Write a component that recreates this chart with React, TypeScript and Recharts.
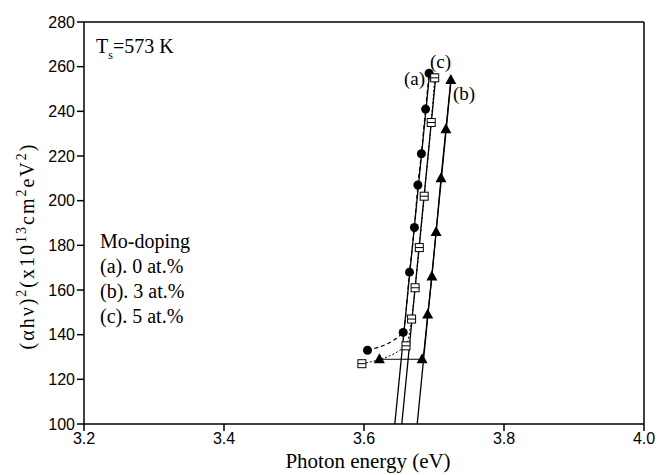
import React from 'react';
import { ComposedChart, Line, XAxis, YAxis, ReferenceLine } from 'recharts';

const xTicks = [3.2, 3.4, 3.6, 3.8, 4.0];
const yTicks = [100, 120, 140, 160, 180, 200, 220, 240, 260, 280];

const aE = [3.605, 3.656, 3.665, 3.672, 3.677, 3.682, 3.688, 3.693];
const aV = [133, 141, 168, 188, 207, 221, 241, 257];
const bE = [3.622, 3.683, 3.691, 3.697, 3.703, 3.710, 3.717, 3.724];
const bV = [129, 129, 149, 166, 186, 210, 232, 254];
const cE = [3.597, 3.660, 3.668, 3.673, 3.679, 3.686, 3.696, 3.701];
const cV = [127, 135, 147, 161, 179, 202, 235, 255];

const aFitE = [3.644, 3.694];
const aFitV = [100, 258];
const cFitE = [3.654, 3.703];
const cFitV = [100, 257];
const bFitE = [3.676, 3.725];
const bFitV = [100, 256];

const zip = (xs: number[], ys: number[]) => xs.map((x, i) => ({ x, y: ys[i] }));

const aData = zip(aE, aV);
const bData = zip(bE, bV);
const cData = zip(cE, cV);
const aFit = zip(aFitE, aFitV);
const bFit = zip(bFitE, bFitV);
const cFit = zip(cFitE, cFitV);

const serif = '"Liberation Serif", "Times New Roman", serif';
const sans = '"Liberation Sans", Arial, sans-serif';

const Circle = (p: any) => <circle key={p.index} cx={p.cx} cy={p.cy} r={4.5} fill="#000" />;
const Square = (p: any) => (
  <g key={p.index}>
    <rect x={p.cx - 4} y={p.cy - 4} width={8} height={8} fill="#fff" stroke="#000" strokeWidth={1} />
    <line x1={p.cx - 4} x2={p.cx + 4} y1={p.cy} y2={p.cy} stroke="#000" strokeWidth={1} />
  </g>
);
const Tri = (p: any) => (
  <polygon key={p.index} points={`${p.cx},${p.cy - 6} ${p.cx - 5.5},${p.cy + 4} ${p.cx + 5.5},${p.cy + 4}`} fill="#000" />
);

const YLabel = () => (
  <text transform="translate(34,246) rotate(-90)" textAnchor="middle" fontFamily={serif} fontSize={20} letterSpacing={2} fill="#000">
    <tspan>(αhν)</tspan>
    <tspan dy={-8} fontSize={14}>2</tspan>
    <tspan dy={8}>(x10</tspan>
    <tspan dy={-8} fontSize={14}>13</tspan>
    <tspan dy={8}>cm</tspan>
    <tspan dy={-8} fontSize={14}>2</tspan>
    <tspan dy={8}>eV</tspan>
    <tspan dy={-8} fontSize={14}>2</tspan>
    <tspan dy={8}>)</tspan>
  </text>
);

export default function App() {
  return (
    <div style={{ position: 'absolute', left: 0, top: 0, width: 661, height: 475, background: '#fff' }}>
      <ComposedChart width={661} height={475} margin={{ top: 22, right: 17, bottom: 21, left: 24 }}>
        <XAxis
          type="number"
          dataKey="x"
          domain={[3.2, 4.0]}
          ticks={xTicks}
          tickFormatter={(v: number) => v.toFixed(1)}
          height={30}
          allowDataOverflow
          stroke="#000"
          strokeWidth={1.5}
          tickSize={7}
          tick={{ fill: '#000', fontSize: 16, fontFamily: sans }}
        />
        <YAxis
          type="number"
          dataKey="y"
          domain={[100, 280]}
          ticks={yTicks}
          width={60}
          allowDataOverflow
          stroke="#000"
          strokeWidth={1.5}
          tickSize={7}
          tick={{ fill: '#000', fontSize: 16, fontFamily: sans }}
        />
        <ReferenceLine y={280} stroke="#000" strokeWidth={1.5} />
        <ReferenceLine x={4.0} stroke="#000" strokeWidth={1.5} />
        <Line data={aFit} dataKey="y" stroke="#000" strokeWidth={1.3} dot={false} isAnimationActive={false} />
        <Line data={cFit} dataKey="y" stroke="#000" strokeWidth={1.3} dot={false} isAnimationActive={false} />
        <Line data={bFit} dataKey="y" stroke="#000" strokeWidth={1.3} dot={false} isAnimationActive={false} />
        <Line data={aData} dataKey="y" type="monotone" stroke="#000" strokeWidth={1.2} strokeDasharray="4 3" dot={Circle} isAnimationActive={false} />
        <Line data={cData} dataKey="y" type="monotone" stroke="#000" strokeWidth={1} strokeDasharray="2 2" dot={Square} isAnimationActive={false} />
        <Line data={bData} dataKey="y" type="monotone" stroke="#000" strokeWidth={1.2} dot={Tri} isAnimationActive={false} />
        <YLabel />
        <text x={368} y={468} textAnchor="middle" fontFamily={serif} fontSize={21} fill="#000">Photon energy (eV)</text>
        <text x={96} y={53} fontFamily={serif} fontSize={20} fill="#000">
          <tspan>T</tspan>
          <tspan dy={6} fontSize={12}>s</tspan>
          <tspan dy={-6}>=573 K</tspan>
        </text>
        <text x={100} y={248} fontFamily={serif} fontSize={20} fill="#000">Mo-doping</text>
        <text x={100} y={273} fontFamily={serif} fontSize={20} fill="#000">(a). 0 at.%</text>
        <text x={100} y={298} fontFamily={serif} fontSize={20} fill="#000">(b). 3 at.%</text>
        <text x={100} y={323} fontFamily={serif} fontSize={20} fill="#000">(c). 5 at.%</text>
        <text x={404} y={85} fontFamily={serif} fontSize={19} fill="#000">(a)</text>
        <text x={430} y={68} fontFamily={serif} fontSize={19} fill="#000">(c)</text>
        <text x={453} y={100} fontFamily={serif} fontSize={19} fill="#000">(b)</text>
      </ComposedChart>
    </div>
  );
}
